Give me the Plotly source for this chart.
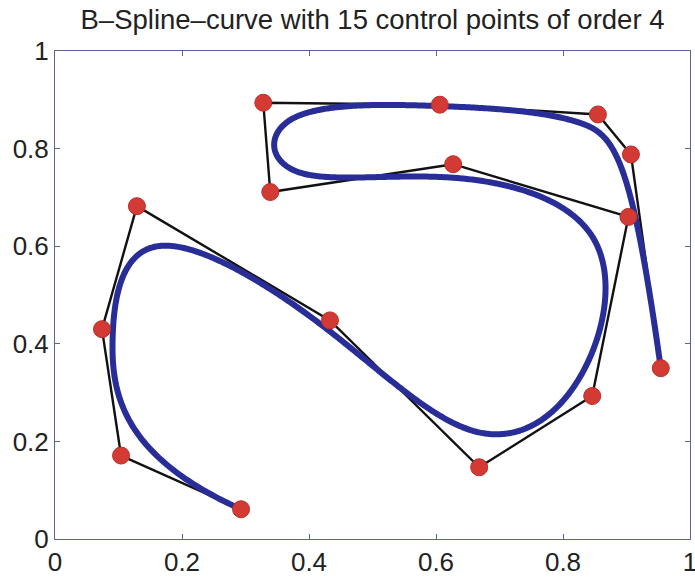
import numpy as np
import plotly.graph_objects as go

# Control points of the curve (15 points)
ctrl_x = [0.293, 0.104, 0.074, 0.129, 0.433, 0.668, 0.846, 0.903,
          0.627, 0.339, 0.328, 0.606, 0.855, 0.907, 0.954]
ctrl_y = [0.061, 0.171, 0.430, 0.682, 0.448, 0.147, 0.293, 0.660,
          0.768, 0.711, 0.894, 0.890, 0.870, 0.788, 0.350]
order = 4  # cubic B-spline

tick_vals = [0, 0.2, 0.4, 0.6, 0.8, 1]
tick_text = ["0", "0.2", "0.4", "0.6", "0.8", "1"]


def bspline_curve(px, py, k, samples=1200):
    """Evaluate a clamped uniform B-spline of order k via Cox-de Boor."""
    px = np.asarray(px, float)
    py = np.asarray(py, float)
    n = len(px)
    spans = n - k + 1
    knots = np.concatenate([np.zeros(k - 1), np.arange(spans + 1), np.full(k - 1, spans)]).astype(float)
    t = np.linspace(0, spans, samples)
    t[-1] -= 1e-9
    # order-1 basis
    B = np.zeros((samples, len(knots) - 1))
    for i in range(len(knots) - 1):
        B[:, i] = (knots[i] <= t) & (t < knots[i + 1])
    for d in range(2, k + 1):
        Bn = np.zeros((samples, len(knots) - d))
        for i in range(len(knots) - d):
            a = knots[i + d - 1] - knots[i]
            b = knots[i + d] - knots[i + 1]
            left = (t - knots[i]) / a * B[:, i] if a > 0 else 0
            right = (knots[i + d] - t) / b * B[:, i + 1] if b > 0 else 0
            Bn[:, i] = left + right
        B = Bn
    return B @ px, B @ py


cx, cy = bspline_curve(ctrl_x, ctrl_y, order)

font = "Liberation Sans, Arial, Helvetica, sans-serif"

fig = go.Figure()
fig.add_trace(go.Scatter(x=ctrl_x, y=ctrl_y, mode="lines",
                         line=dict(color="#111111", width=2.4), hoverinfo="skip"))
fig.add_trace(go.Scatter(x=cx, y=cy, mode="lines",
                         line=dict(color="#282d98", width=6, simplify=False),
                         hoverinfo="skip"))
fig.add_trace(go.Scatter(x=ctrl_x, y=ctrl_y, mode="markers",
                         marker=dict(color="#d33a33", size=17,
                                     line=dict(color="#b8302b", width=1))))

axis_common = dict(
    range=[0, 1], tickvals=tick_vals, ticktext=tick_text,
    showgrid=False, zeroline=False, showline=True, mirror="ticks",
    linecolor="#5a6496", linewidth=1, ticks="inside", ticklen=5,
    tickcolor="#5a6496", tickfont=dict(family=font, size=26, color="#222222"),
    ticklabeloverflow="allow", automargin=False,
)

fig.update_layout(
    width=695, height=579,
    margin=dict(l=55, r=5, t=51, b=40, autoexpand=False),
    paper_bgcolor="white", plot_bgcolor="white",
    showlegend=False,
    title=dict(text="B–Spline–curve with 15 control points of order 4",
               x=0.536, xanchor="center", y=0.966, yanchor="middle",
               font=dict(family=font, size=27.5, color="#222222")),
    xaxis=dict(**axis_common),
    yaxis=dict(**axis_common),
)

fig.write_html("out.html")
